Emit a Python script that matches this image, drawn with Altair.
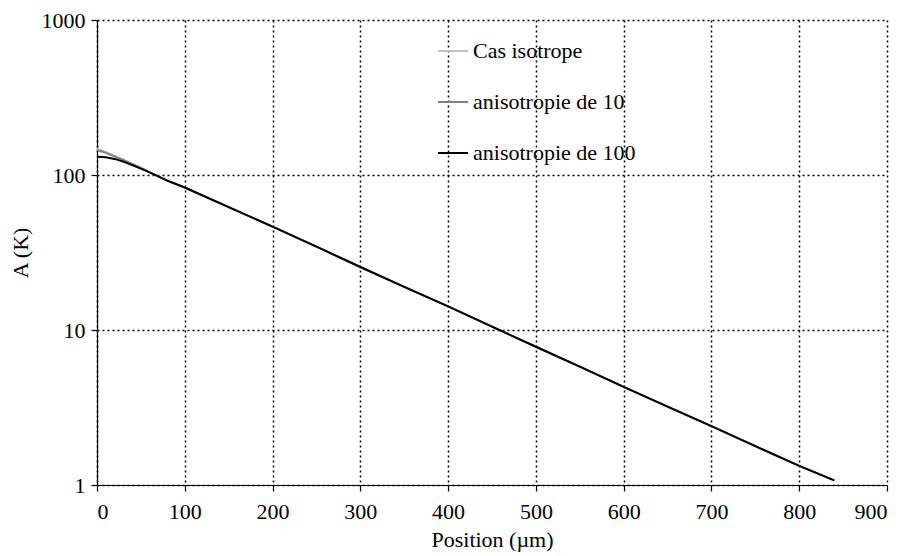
import altair as alt
import pandas as pd

positions = [0, 10, 20, 30, 40, 50, 60, 80, 100, 150, 200, 250, 300, 350, 400,
             450, 500, 550, 600, 650, 700, 750, 800, 840]
iso = [148, 141, 133, 125, 118, 111, 104, 92, 83, 62, 46.5, 34.5, 25.5, 19, 14.2,
       10.5, 7.8, 5.8, 4.3, 3.2, 2.4, 1.78, 1.33, 1.07]
aniso10 = [145, 139, 132, 125, 118, 111, 104, 92, 83, 62, 46.5, 34.5, 25.5, 19, 14.2,
           10.5, 7.8, 5.8, 4.3, 3.2, 2.4, 1.78, 1.33, 1.07]
aniso100 = [131, 130, 127, 122, 116, 110, 104, 92, 83, 62, 46.5, 34.5, 25.5, 19, 14.2,
            10.5, 7.8, 5.8, 4.3, 3.2, 2.4, 1.78, 1.33, 1.07]

series_names = ["Cas isotrope", "anisotropie de 10", "anisotropie de 100"]
series_colors = ["#c0c0c0", "#808080", "#000000"]
x_ticks = [0, 100, 200, 300, 400, 500, 600, 700, 800, 900]
y_ticks = [1, 10, 100, 1000]

rows = []
for order, (name, vals) in enumerate(zip(series_names, [iso, aniso10, aniso100])):
    for p, v in zip(positions, vals):
        rows.append({"Position": p, "A": v, "Serie": name, "ordre": order})
df = pd.DataFrame(rows)

FONT = "Liberation Serif"

chart = alt.Chart(df).mark_line(strokeWidth=2).encode(
    x=alt.X("Position:Q", scale=alt.Scale(domain=[0, 900], nice=False),
            axis=alt.Axis(values=x_ticks, title="Position (µm)", format="d",
                          labelPadding=10, titlePadding=7)),
    y=alt.Y("A:Q", scale=alt.Scale(type="log", domain=[1, 1000], nice=False),
            axis=alt.Axis(values=y_ticks, title="A (K)", format="d",
                          labelPadding=6, titlePadding=9)),
    color=alt.Color("Serie:N",
                    scale=alt.Scale(domain=series_names, range=series_colors),
                    legend=alt.Legend(title=None, orient="none", legendX=340, legendY=15,
                                      symbolType="stroke", symbolSize=900,
                                      symbolStrokeWidth=2, rowPadding=24,
                                      labelFont=FONT, labelFontSize=22, labelLimit=0,
                                      labelColor="black", labelOffset=4)),
    detail="ordre:O",
    order="ordre:O",
).properties(
    width=790, height=465,
    autosize=alt.AutoSizeParams(type="none"),
    padding={"left": 89, "top": 12, "right": 13, "bottom": 70},
).configure_view(stroke=None).configure_axis(
    grid=True, gridColor="black", gridDash=[2, 3], gridWidth=1.5, gridOpacity=1,
    domainColor="black", domainWidth=1.2, tickColor="black", tickSize=6, tickWidth=1.2,
    labelFont=FONT, labelFontSize=22, labelColor="black",
    titleFont=FONT, titleFontSize=22, titleFontWeight="normal", titleColor="black",
)

chart.save("out.html", embed_options={"renderer": "svg", "actions": False})
